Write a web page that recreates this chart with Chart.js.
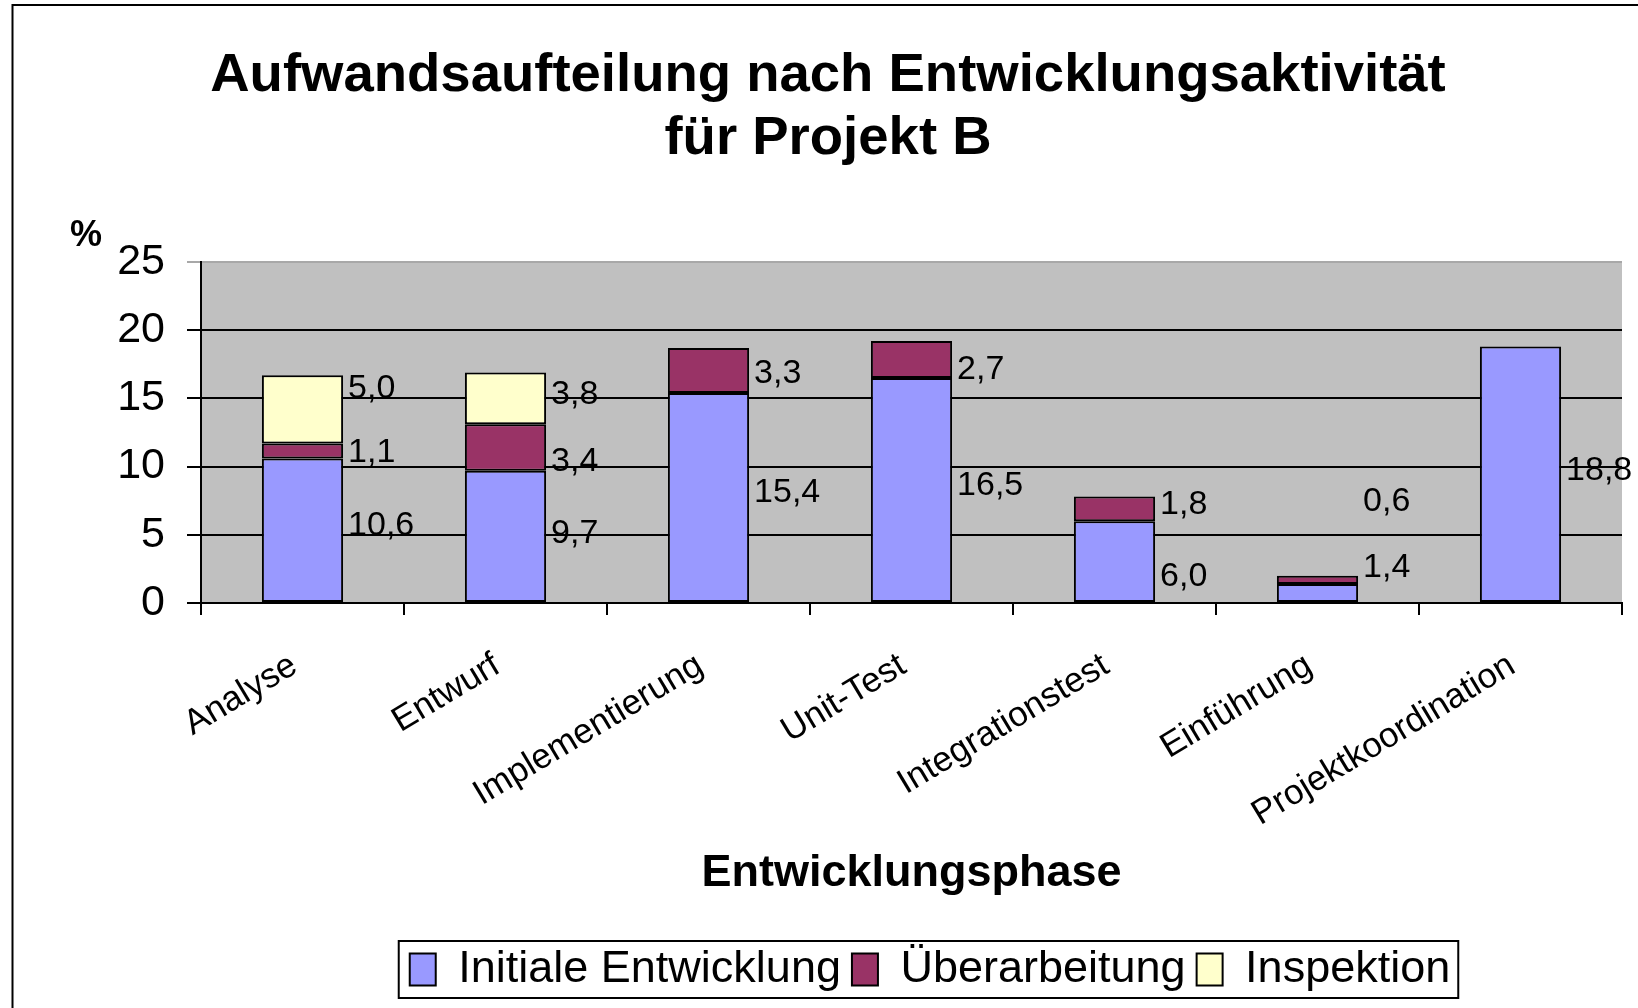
<!DOCTYPE html>
<html>
<head>
<meta charset="utf-8">
<script src="https://cdn.jsdelivr.net/npm/chart.js@4.4.0/dist/chart.umd.min.js"></script>
<style>
  html, body { margin: 0; padding: 0; background: #fff; }
  #wrap { width: 1638px; height: 1008px; }
</style>
</head>
<body>
<div id="wrap"><canvas id="chart"></canvas></div>
<script>
// Data
const phases = ['Analyse', 'Entwurf', 'Implementierung', 'Unit-Test', 'Integrationstest', 'Einführung', 'Projektkoordination'];
const initialDev = [10.6, 9.7, 15.4, 16.5, 6.0, 1.4, 18.8];
const rework = [1.1, 3.4, 3.3, 2.7, 1.8, 0.6, null];
const inspection = [5.0, 3.8, null, null, null, null, null];
// the value labels were moved by hand in the original; their heights in axis units
const initialLabelAt = [5.7, 5.1, 8.1, 8.6, 1.9, 2.6, 9.7];
const reworkLabelAt = [11.0, 10.4, 16.8, 17.1, 7.2, 7.4, null];
const inspectionLabelAt = [15.7, 15.3, null, null, null, null, null];
const yTicks = [0, 5, 10, 15, 20, 25];

const FONT = "'Liberation Sans', Arial, sans-serif";
const labelAt = [initialLabelAt, reworkLabelAt, inspectionLabelAt];

const fmt = v => v.toFixed(1).replace('.', ',');

// gray plot background, outer frame, "%" unit, legend frame
const decorations = {
    id: 'decorations',
    beforeDraw(chart) {
        const { ctx, chartArea: a } = chart;
        ctx.save();
        ctx.fillStyle = '#c0c0c0';
        ctx.fillRect(a.left, a.top, a.right - a.left, a.bottom - a.top);
        ctx.strokeStyle = '#000';
        ctx.lineWidth = 2;
        ctx.beginPath();
        ctx.moveTo(12.5, chart.height + 5);
        ctx.lineTo(12.5, 5);
        ctx.lineTo(chart.width + 5, 5);
        ctx.stroke();
        ctx.fillStyle = '#000';
        ctx.font = 'bold 36px ' + FONT;
        ctx.textAlign = 'center';
        ctx.textBaseline = 'middle';
        ctx.fillText('%', 86, 236);
        ctx.restore();
    },
    afterLayout(chart) {
        // title and legend sit right of centre in the original
        const lg = chart.legend;
        lg.left += 119;
        lg.right += 119;
        const tb = chart.titleBlock;
        tb.left += 17;
        tb.right += 17;
    },
    afterDraw(chart) {
        const boxes = chart.legend.legendHitBoxes;
        if (!boxes || !boxes.length) return;
        const { ctx } = chart;
        const l = Math.min(...boxes.map(b => b.left)) - 11;
        const r = Math.max(...boxes.map(b => b.left + b.width)) + 8;
        const mid = boxes[0].top + boxes[0].height / 2;
        ctx.save();
        ctx.strokeStyle = '#000';
        ctx.lineWidth = 2;
        ctx.strokeRect(l, mid - 28.5, r - l, 57);
        ctx.restore();
    }
};

// value labels beside each segment
const valueLabels = {
    id: 'valueLabels',
    afterDatasetsDraw(chart) {
        const { ctx, scales: { y } } = chart;
        ctx.save();
        ctx.fillStyle = '#000';
        ctx.font = '34px ' + FONT;
        ctx.textAlign = 'left';
        ctx.textBaseline = 'middle';
        chart.data.datasets.forEach((ds, i) => {
            const meta = chart.getDatasetMeta(i);
            meta.data.forEach((bar, j) => {
                const v = ds.data[j];
                if (v == null || labelAt[i][j] == null) return;
                const x = bar.x + bar.width / 2 + 5;
                ctx.fillText(fmt(v), x, y.getPixelForValue(labelAt[i][j]));
            });
        });
        ctx.restore();
    }
};

const LEGEND_PAD_BOTTOM = 6;

new Chart(document.getElementById('chart'), {
    type: 'bar',
    data: {
        labels: phases,
        datasets: [{
            label: 'Initiale Entwicklung',
            data: initialDev,
            backgroundColor: '#9999ff'
        }, {
            label: 'Überarbeitung',
            data: rework,
            backgroundColor: '#993366'
        }, {
            label: 'Inspektion',
            data: inspection,
            backgroundColor: '#ffffcc'
        }]
    },
    options: {
        responsive: true,
        maintainAspectRatio: false,
        animation: false,
        layout: { padding: { left: 0, right: 16, top: 0, bottom: LEGEND_PAD_BOTTOM } },
        datasets: {
            bar: {
                borderColor: '#000',
                borderWidth: 2,
                borderSkipped: false,
                barPercentage: 0.4,
                categoryPercentage: 1
            }
        },
        plugins: {
            title: {
                display: true,
                text: ['Aufwandsaufteilung nach Entwicklungsaktivität', 'für Projekt B'],
                color: '#000',
                font: { family: FONT, size: 54.5, weight: 'bold', lineHeight: 1.156 },
                padding: { top: 44.5, bottom: 91.5 }
            },
            legend: {
                position: 'bottom',
                labels: {
                    color: '#000',
                    font: { family: FONT, size: 45 },
                    boxWidth: 26,
                    boxHeight: 32,
                    padding: 11,
                    useBorderRadius: false
                }
            },
            tooltip: { enabled: false }
        },
        scales: {
            x: {
                stacked: true,
                grid: {
                    offset: true,
                    drawOnChartArea: false,
                    color: '#000',
                    lineWidth: 2,
                    tickLength: 12
                },
                border: { color: '#000', width: 2 },
                ticks: {
                    color: '#000',
                    font: { family: FONT, size: 35 },
                    autoSkip: false,
                    minRotation: 31,
                    maxRotation: 31,
                    padding: 25,
                    // trailing space nudges the rotated label a little left and down
                    callback(value) { return this.getLabelForValue(value) + ' '; }
                },
                title: {
                    display: true,
                    text: 'Entwicklungsphase',
                    color: '#000',
                    font: { family: FONT, size: 45, weight: 'bold' },
                    padding: { top: 0, bottom: 35 }
                },
                afterFit(scale) {
                    const lgH = scale.chart.legend ? scale.chart.legend.height : 0;
                    scale.height = 1008 - LEGEND_PAD_BOTTOM - lgH - 603;
                }
            },
            y: {
                stacked: true,
                min: 0,
                max: 25,
                afterBuildTicks(scale) {
                    scale.ticks = yTicks.map(v => ({ value: v }));
                },
                grid: {
                    color: ctx => ctx.tick.value === 25 ? '#a8a8a8' : '#000',
                    lineWidth: 2,
                    tickLength: 14
                },
                border: { color: '#000', width: 2 },
                ticks: {
                    color: '#000',
                    font: { family: FONT, size: 43 },
                    padding: 22
                },
                afterFit(scale) {
                    scale.width = 201;
                }
            }
        }
    },
    plugins: [decorations, valueLabels]
});
</script>
</body>
</html>
